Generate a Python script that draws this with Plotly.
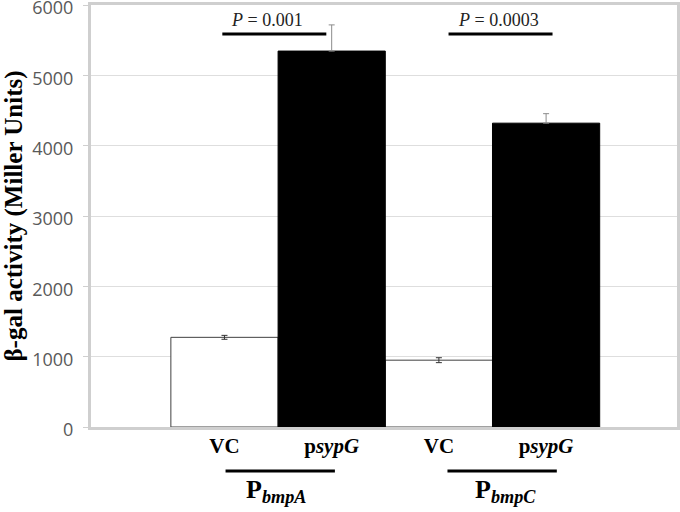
import plotly.graph_objects as go

# bar values (Miller units)
positions = [0, 1, 2, 3]
tick_labels = ["<b>VC</b>", "<b>p<i>sypG</i></b>", "<b>VC</b>", "<b>p<i>sypG</i></b>"]
vc_x = [0, 2]
vc_values = [1275, 950]
vc_err = [28, 35]
psypg_x = [1, 3]
psypg_values = [5345, 4320]
psypg_err = [372, 135]
p_values = ["<i>P</i> = 0.001", "<i>P</i> = 0.0003"]
promoters = ["<b>P</b><sub><b><i>bmpA</i></b></sub>", "<b>P</b><sub><b><i>bmpC</i></b></sub>"]

serif = "Liberation Serif"

fig = go.Figure()
fig.add_trace(go.Bar(
    x=vc_x, y=vc_values, width=1,
    marker=dict(color="white", line=dict(color="#404040", width=1)),
    error_y=dict(type="data", array=vc_err, color="#333333", thickness=1, width=3),
))
fig.add_trace(go.Bar(
    x=psypg_x, y=psypg_values, width=1,
    marker=dict(color="black", line=dict(color="black", width=1)),
    error_y=dict(type="data", symmetric=False, array=psypg_err, arrayminus=[0, 0],
                 color="#8c8c8c", thickness=1, width=3),
))

# significance bars with P values
for (x0, x1), xc, txt in zip([(-0.02, 0.95), (2.09, 3.06)], [0.40, 2.56], p_values):
    fig.add_shape(type="line", xref="x", yref="y", x0=x0, x1=x1, y0=5588, y1=5588,
                  line=dict(color="black", width=3))
    fig.add_annotation(x=xc, y=5790, xref="x", yref="y", text=txt, showarrow=False,
                       font=dict(family=serif, size=18, color="#222222"))

# promoter group labels below the axis
for (x0, x1), xc, txt in zip([(0.01, 1.03), (2.08, 3.10)], [0.48, 2.62], promoters):
    fig.add_shape(type="line", xref="x", yref="paper", x0=x0, x1=x1, y0=-0.104, y1=-0.104,
                  line=dict(color="black", width=3))
    fig.add_annotation(x=xc, y=-0.194, xref="x", yref="paper", text=txt, showarrow=False,
                       font=dict(family=serif, size=26, color="black"))

fig.update_layout(
    width=680, height=512,
    margin=dict(l=91, r=3, t=5, b=85),
    paper_bgcolor="white", plot_bgcolor="white",
    showlegend=False, barmode="overlay",
)
fig.update_xaxes(
    range=[-1.245, 4.221], tickvals=positions, ticktext=tick_labels,
    tickfont=dict(family=serif, size=21, color="black"),
    showgrid=False, zeroline=False, ticks="", ticklabelstandoff=-2,
    showline=True, mirror=True, linecolor="#cfcfcf", linewidth=3,
    automargin=False,
)
fig.update_yaxes(
    range=[0, 6000], dtick=1000,
    tickfont=dict(family="Open Sans", size=18, color="#595959"),
    ticks="outside", ticklen=5, tickcolor="#cfcfcf", ticklabelstandoff=6,
    ticklabelshift=3, ticklabeloverflow="allow",
    showgrid=True, gridcolor="#dedede", gridwidth=1, zeroline=False,
    showline=True, mirror=True, linecolor="#cfcfcf", linewidth=3,
    automargin=False,
    title=dict(text="<b>β-gal activity (Miller Units)</b>", standoff=10,
               font=dict(family=serif, size=25, color="black")),
)

fig.write_html("out.html", config={"displayModeBar": False},
               post_script="document.body.style.margin='0';")
